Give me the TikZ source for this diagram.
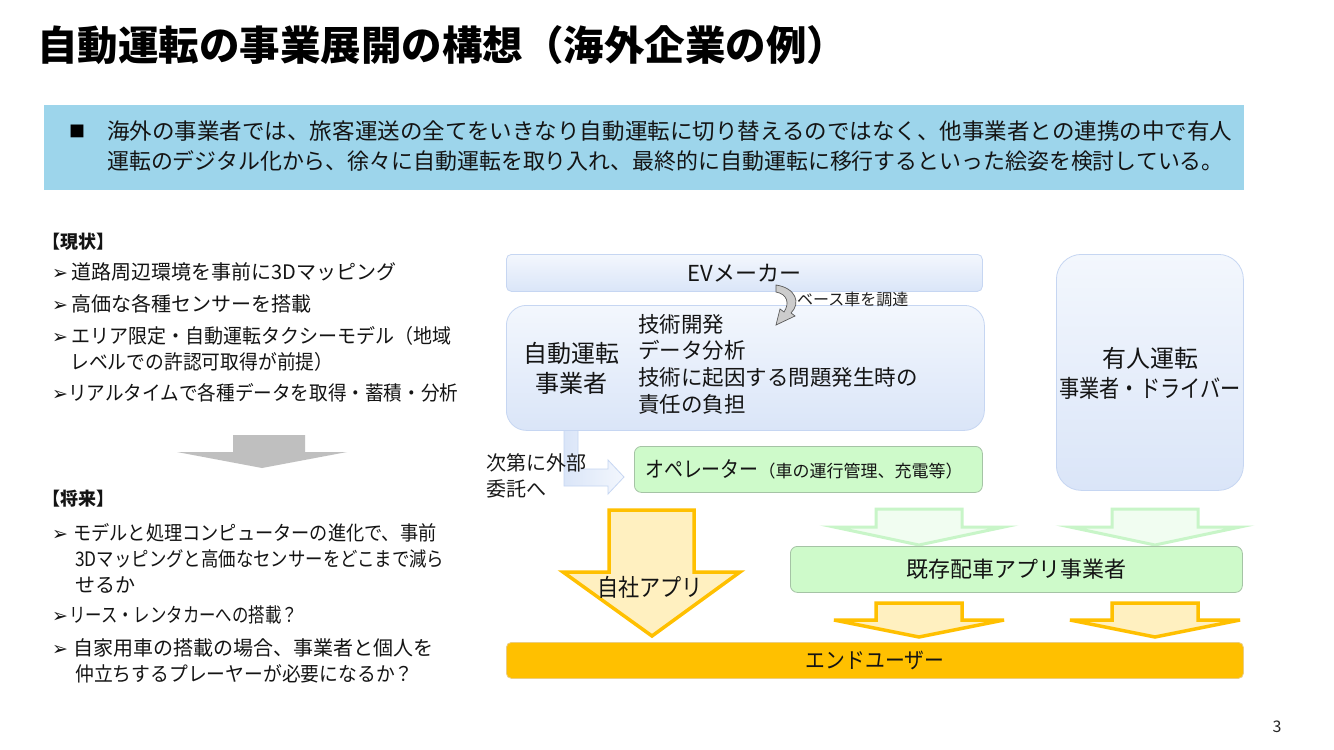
\documentclass[tikz,border=0pt]{standalone}
\usepackage{fontspec}
\usepackage{graphicx}
\setmainfont{Noto Sans CJK JP}
\newfontfamily\dejavu{DejaVu Sans}
\definecolor{bannerc}{RGB}{157,213,235}
\definecolor{boxtop}{RGB}{243,247,253}
\definecolor{boxbot}{RGB}{218,229,248}
\definecolor{boxline}{RGB}{198,214,242}
\definecolor{greenc}{RGB}{206,250,202}
\definecolor{greenline}{RGB}{165,195,165}
\definecolor{yelline}{RGB}{255,192,0}
\definecolor{yelfill}{RGB}{255,240,192}
\definecolor{garline}{RGB}{200,245,200}
\definecolor{garfill}{RGB}{241,253,241}
\definecolor{enduser}{RGB}{255,192,0}
\definecolor{enduserline}{RGB}{235,205,130}
\definecolor{grayarrow}{RGB}{191,191,191}
\definecolor{txt}{RGB}{20,20,20}
\newcommand\bulw[1]{\makebox[#1][l]{\dejavu\fontsize{19}{19}\selectfont ➢}}
\newcommand\sx[2]{\scalebox{#1}[1]{#2}}
\tikzset{
  bluebox/.style={draw=boxline, line width=0.8pt, top color=boxtop, bottom color=boxbot, inner sep=0pt},
  greenbox/.style={draw=greenline, line width=0.8pt, fill=greenc, rounded corners=7pt, inner sep=0pt},
  big/.style={font=\fontsize{22}{28}\selectfont, text=txt},
  lefttxt/.style={anchor=west, inner sep=0pt, font=\fontsize{20}{24}\selectfont, text=txt},
  yarrow/.style={draw=yelline, line width=3.5pt, fill=yelfill, line join=miter},
  garrow/.style={draw=garline, line width=3pt, fill=garfill, line join=miter},
}
\begin{document}
\begin{tikzpicture}[x=1pt,y=-1pt]
\useasboundingbox (0,0) rectangle (1334,750);
\fill[white] (0,0) rectangle (1334,750);
% title
\node[anchor=west, inner sep=0pt, font=\fontsize{40.5}{44}\selectfont\bfseries] (title) at (37,45) {自動運転の事業展開の構想（海外企業の例）};
% banner
\node[fill=bannerc, anchor=north west, minimum width=1200pt, minimum height=85pt, inner sep=0pt] (banner) at (44,105) {};
\node[anchor=center, inner sep=0pt, font=\fontsize{16}{16}\selectfont] (bsq) at (77,131) {■};
\node[anchor=west, inner sep=0pt, align=left, font=\fontsize{22.2}{30}\selectfont, text=txt] (btext) at (107,146) {\sx{1.015}{海外の事業者では、旅客運送の全てをいきなり自動運転に切り替えるのではなく、他事業者との連携の中で有人}\\\sx{0.987}{運転のデジタル化から、徐々に自動運転を取り入れ、最終的に自動運転に移行するといった絵姿を検討している。}};
% left column
\node[lefttxt, font=\fontsize{18}{22}\selectfont\bfseries] (now) at (42,242) {【現状】};
\node[lefttxt] (n1) at (52,272) {\bulw{19pt}道路周辺環境を事前に3Dマッピング};
\node[lefttxt] (n2) at (52,304) {\bulw{19pt}高価な各種センサーを搭載};
\node[lefttxt] (n3) at (52,336) {\bulw{19pt}\sx{0.95}{エリア限定・自動運転タクシーモデル（地域}};
\node[lefttxt] (n3b) at (70,362) {\sx{0.94}{レベルでの許認可取得が前提）}};
\node[lefttxt] (n4) at (52,393) {\bulw{16pt}\sx{0.93}{リアルタイムで各種データを取得・蓄積・分析}};
\fill[grayarrow] (233,435) -- (305,435) -- (305,452) -- (347,452) -- (262,468) -- (177,452) -- (233,452) -- cycle;
\node[lefttxt, font=\fontsize{18}{22}\selectfont\bfseries] (fut) at (42,499) {【将来】};
\node[lefttxt] (f1) at (52,533) {\bulw{21pt}\sx{0.91}{モデルと処理コンピューターの進化で、事前}};
\node[lefttxt] (f1b) at (75,559) {\sx{0.87}{3Dマッピングと高価なセンサーをどこまで減ら}};
\node[lefttxt] (f1c) at (75,585) {せるか};
\node[lefttxt] (f2) at (52,615) {\bulw{17pt}\sx{0.82}{リース・レンタカーへの搭載？}};
\node[lefttxt] (f3) at (52,648) {\bulw{21pt}自家用車の搭載の場合、事業者と個人を};
\node[lefttxt] (f3b) at (75,674) {\sx{0.94}{仲立ちするプレーヤーが必要になるか？}};
% L-shaped arrow (outsourcing)
\draw[draw=boxline, line width=0.8pt, left color=boxbot, right color=boxtop] (564,428) -- (578,428) -- (578,469) -- (608,469) -- (608,460) -- (624,477) -- (608,494) -- (608,486) -- (564,486) -- cycle;
% boxes
\node[bluebox, rounded corners=5pt, anchor=north west, minimum width=476pt, minimum height=37pt, big] (ev) at (506,254) {EVメーカー};
\node[bluebox, rounded corners=20pt, anchor=north west, minimum width=478pt, minimum height=125pt] (ad) at (506,305) {};
\node[align=center, inner sep=0pt, font=\fontsize{24}{30}\selectfont, text=txt] (adname) at (571,368) {自動運転\\事業者};
\node[anchor=west, inner sep=0pt, align=left, font=\fontsize{21.5}{26.7}\selectfont, text=txt] (adtask) at (638,364) {技術開発\\データ分析\\技術に起因する問題発生時の\\責任の負担};
\node[bluebox, rounded corners=25pt, anchor=north west, minimum width=187pt, minimum height=236pt] (man) at (1056,254) {};
\node[align=center, inner sep=0pt, font=\fontsize{24}{30}\selectfont, text=txt] (manname) at (1150,373) {有人運転\\\sx{0.84}{事業者・ドライバー}};
% curved arrow
\filldraw[draw=gray!70!black, line width=0.7pt, fill=gray!40] (776,285) .. controls (796,288) and (801,303) .. (791,313) -- (795,316) -- (776,325) -- (780,309) -- (784,312) .. controls (790,303) and (787,294) .. (776,292) -- cycle;
\node[anchor=west, inner sep=0pt, font=\fontsize{16}{16}\selectfont, text=gray!25!black] (base) at (797,299) {ベース車を調達};
\node[anchor=west, inner sep=0pt, align=left, font=\fontsize{20}{26}\selectfont, text=gray!20!black] (outs) at (486,476) {次第に外部\\委託へ};
% operator
\node[greenbox, anchor=north west, minimum width=348pt, minimum height=46pt] (op) at (634,446) {};
\node[anchor=west, inner sep=0pt, text=txt] (optxt) at (645,469) {{\fontsize{22}{22}\selectfont\sx{0.86}{オペレーター}}{\fontsize{17}{17}\selectfont （車の運行管理、充電等）}};
% own app arrow
\draw[yarrow] (609,510) -- (694,510) -- (694,572) -- (740,572) -- (652,636) -- (563,572) -- (609,572) -- cycle;
\node[inner sep=0pt, font=\fontsize{24}{24}\selectfont, text=txt] (ownapp) at (650,587) {\sx{0.88}{自社アプリ}};
% green arrows
\foreach \cx in {919,1155} {
  \draw[garrow] (\cx-43,509) -- (\cx+43,509) -- (\cx+43,527) -- (\cx+85,527) -- (\cx,545) -- (\cx-85,527) -- (\cx-43,527) -- cycle;
}
% existing app
\node[greenbox, anchor=north west, minimum width=452pt, minimum height=46pt, big] (exist) at (790,546) {既存配車アプリ事業者};
% yellow small arrows
\foreach \cx in {919,1155} {
  \draw[yarrow] (\cx-43,603) -- (\cx+43,603) -- (\cx+43,620) -- (\cx+85,620) -- (\cx,637) -- (\cx-85,620) -- (\cx-43,620) -- cycle;
}
% end user
\node[draw=enduserline, line width=0.8pt, fill=enduser, rounded corners=5pt, anchor=north west, minimum width=737pt, minimum height=36pt, inner sep=0pt, big] (eu) at (506,642) {\sx{0.9}{エンドユーザー}};
% page number
\node[inner sep=0pt, font=\fontsize{16}{16}\selectfont, text=gray!30!black] (pg) at (1277,727) {3};
\end{tikzpicture}
\end{document}
